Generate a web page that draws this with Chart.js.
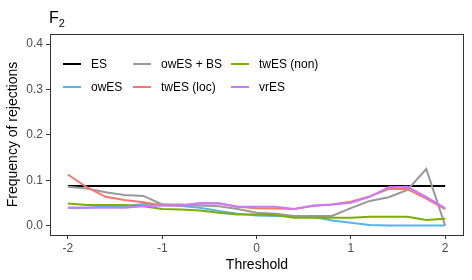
<!DOCTYPE html>
<html>
<head>
<meta charset="utf-8">
<script src="https://cdn.jsdelivr.net/npm/chart.js@4/dist/chart.umd.min.js"></script>
<style>
  html, body { margin: 0; padding: 0; background: #fff; }
  #wrap { width: 472px; height: 280px; }
</style>
</head>
<body>
<div id="wrap"><canvas id="rejChart"></canvas></div>
<script>
// Thresholds (x) and rejection frequencies
const thresholds = [-2, -1.8, -1.6, -1.4, -1.2, -1, -0.8, -0.6, -0.4, -0.2, 0,
  0.2, 0.4, 0.6, 0.8, 1, 1.2, 1.4, 1.6, 1.8, 2];

const es = [0.088, 0.088, 0.088, 0.088, 0.088, 0.088, 0.088, 0.088, 0.088, 0.088, 0.088,
  0.088, 0.088, 0.088, 0.088, 0.088, 0.088, 0.088, 0.088, 0.088, 0.088];
const owES = [0.040, 0.040, 0.043, 0.043, 0.048, 0.047, 0.044, 0.040, 0.033, 0.027, 0.023,
  0.022, 0.022, 0.020, 0.012, 0.007, 0.002, 0.001, 0.001, 0.001, 0.001];
const owESBS = [0.086, 0.082, 0.074, 0.068, 0.066, 0.047, 0.047, 0.045, 0.043, 0.037, 0.029,
  0.027, 0.022, 0.022, 0.022, 0.039, 0.055, 0.063, 0.079, 0.125, 0.001];
const twESloc = [0.113, 0.085, 0.064, 0.057, 0.052, 0.045, 0.045, 0.050, 0.050, 0.042, 0.039,
  0.038, 0.037, 0.044, 0.047, 0.053, 0.065, 0.081, 0.081, 0.060, 0.037];
const twESnon = [0.049, 0.046, 0.046, 0.046, 0.043, 0.037, 0.036, 0.034, 0.029, 0.025, 0.025,
  0.024, 0.018, 0.018, 0.018, 0.018, 0.020, 0.020, 0.020, 0.013, 0.016];
const vrES = [0.040, 0.040, 0.040, 0.040, 0.043, 0.045, 0.045, 0.050, 0.049, 0.042, 0.042,
  0.042, 0.037, 0.045, 0.047, 0.051, 0.064, 0.085, 0.086, 0.064, 0.039];

const seriesNames = ["ES", "owES", "owES + BS", "twES (loc)", "twES (non)", "vrES"];
const seriesColors = ["#000000", "#56B4E9", "#999999", "#F8766D", "#7CAE00", "#C77CFF"];
const seriesValues = [es, owES, owESBS, twESloc, twESnon, vrES];

const xTicks = [-2, -1, 0, 1, 2];
const yTicks = [0, 0.1, 0.2, 0.3, 0.4];

const FONT = "'Liberation Sans', Arial, sans-serif";
const INK = "#333333";
const TICK_INK = "#4d4d4d";

// panel border, title and the 3x2 legend (filled column by column)
const decorations = {
  id: "decorations",
  afterDraw(chart) {
    const { ctx, chartArea: a } = chart;
    ctx.save();
    ctx.strokeStyle = INK;
    ctx.lineWidth = 1;
    ctx.strokeRect(a.left + 0.5, a.top + 0.5, a.right - a.left - 1, a.bottom - a.top);

    // title F with subscript 2
    ctx.fillStyle = "#000";
    ctx.textBaseline = "alphabetic";
    ctx.textAlign = "left";
    ctx.font = "16px " + FONT;
    ctx.fillText("F", a.left - 1, 23);
    const fw = ctx.measureText("F").width;
    ctx.font = "11px " + FONT;
    ctx.fillText("2", a.left - 1 + fw, 27);

    // legend
    const colX = [63, 133, 231];
    const rowY = [64, 87];
    ctx.font = "12px " + FONT;
    ctx.textBaseline = "middle";
    chart.data.datasets.forEach((ds, i) => {
      const col = Math.floor(i / 2);
      const row = i % 2;
      const x = colX[col];
      const y = rowY[row];
      ctx.strokeStyle = ds.borderColor;
      ctx.lineWidth = 2;
      ctx.beginPath();
      ctx.moveTo(x, y);
      ctx.lineTo(x + 18, y);
      ctx.stroke();
      ctx.fillStyle = "#000";
      ctx.fillText(ds.label, x + 28, y + 0.5);
    });
    ctx.restore();
  }
};

document.addEventListener("DOMContentLoaded", () => {
  const ctx = document.getElementById("rejChart");

  new Chart(ctx, {
    type: "line",
    data: {
      datasets: seriesNames.map((name, i) => ({
        label: name,
        data: thresholds.map((t, j) => ({ x: t, y: seriesValues[i][j] })),
        borderColor: seriesColors[i],
        backgroundColor: seriesColors[i],
        borderWidth: 2,
        pointRadius: 0,
        tension: 0,
        order: seriesNames.length - i
      }))
    },
    options: {
      responsive: true,
      maintainAspectRatio: false,
      animation: false,
      layout: { padding: { top: 34, right: 8, left: 0, bottom: 0 } },
      plugins: {
        legend: { display: false },
        tooltip: { enabled: false }
      },
      scales: {
        x: {
          type: "linear",
          min: -2.19,
          max: 2.2,
          afterBuildTicks: (axis) => { axis.ticks = xTicks.map(v => ({ value: v })); },
          afterFit: (axis) => { axis.height = 45; },
          grid: { drawOnChartArea: false, drawTicks: true, tickLength: 4, color: INK },
          border: { display: false },
          ticks: {
            padding: 2,
            color: TICK_INK,
            font: { family: FONT, size: 12 },
            callback: (v) => String(v)
          },
          title: {
            display: true,
            text: "Threshold",
            color: "#000",
            font: { family: FONT, size: 14 },
            padding: { top: 0, bottom: 6 }
          }
        },
        y: {
          min: -0.02,
          max: 0.422,
          afterBuildTicks: (axis) => { axis.ticks = yTicks.map(v => ({ value: v })); },
          afterFit: (axis) => { axis.width = 50; },
          grid: { drawOnChartArea: false, drawTicks: true, tickLength: 4, color: INK },
          border: { display: false },
          ticks: {
            padding: 3,
            color: TICK_INK,
            font: { family: FONT, size: 12 },
            callback: (v) => v.toFixed(1)
          },
          title: {
            display: true,
            text: "Frequency of rejections",
            color: "#000",
            font: { family: FONT, size: 14 },
            padding: { top: 5, bottom: 0 }
          }
        }
      }
    },
    plugins: [decorations]
  });
});
</script>
</body>
</html>
